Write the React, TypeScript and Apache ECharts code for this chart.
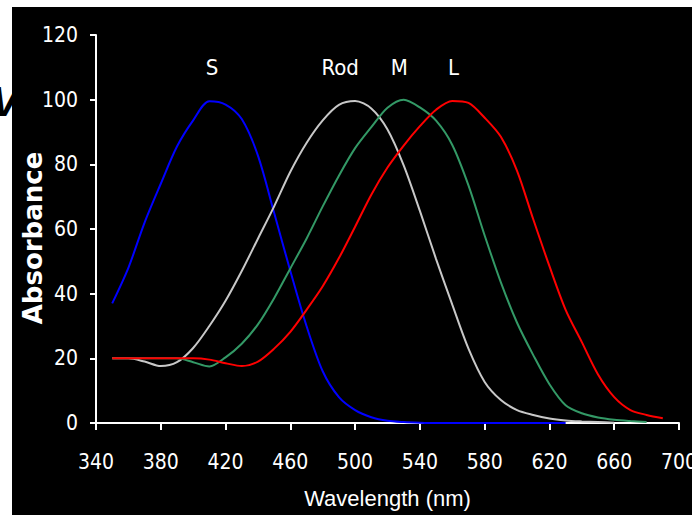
import React, { useEffect, useRef } from "react";
import * as echarts from "echarts";

const wavelengths = [350, 360, 370, 380, 390, 400, 410, 420, 430, 440, 450, 460, 470, 480, 490, 500, 510, 520, 530, 540, 550, 560, 570, 580, 590, 600, 610, 620, 630, 640, 650, 660, 670, 680, 690];

const sCone = [37, 48, 62, 74, 85.5, 93.6, 99.5, 98.5, 94, 82.7, 65, 47, 30, 16, 8, 4, 1.8, 0.7, 0.3, 0.1, 0, 0, 0, 0, 0, 0, 0, 0, 0, null, null, null, null, null, null];
const rod = [20, 20, 19, 17.6, 18.8, 23.2, 30, 37.8, 47, 57, 67, 77.7, 86.6, 93.6, 98.4, 99.6, 97.3, 90.8, 79.7, 65.6, 50.7, 36.6, 23, 12.7, 7.1, 4, 2.5, 1.4, 0.8, 0.5, 0.3, 0.1, null, null, null];
const mCone = [20, 20, 20, 20, 20, 18.8, 17.5, 20.3, 24.5, 30.5, 38.6, 47.8, 57, 67, 76.5, 85, 91.5, 97.5, 100, 97.6, 93.5, 86, 73.5, 58, 43.5, 31, 21, 12, 5.5, 3, 1.7, 1, 0.6, 0.3, null];
const lCone = [20, 20, 20, 20, 20, 20, 19.6, 18.5, 17.6, 19, 23, 28.2, 35, 42.3, 51, 60.7, 70.6, 79, 85.8, 91.8, 96.9, 99.6, 99, 94.4, 88.5, 78, 63, 48.5, 35, 25, 15, 8, 4, 2.5, 1.5];

const curveLabels = ["S", "Rod", "M", "L"];
const curveLabelX = [411.7, 490.8, 527.3, 560.7];
const curveLabelY = [109.8, 109.8, 109.8, 109.8];

const xTicks = { min: 340, max: 700, interval: 40 };
const yTicks = { min: 0, max: 120, interval: 20 };

const narrow = "'Liberation Sans Narrow', 'DejaVu Sans Condensed', 'Liberation Sans', sans-serif";

function pairs(vals: (number | null)[]) {
  return wavelengths.map((w, i) => [w, vals[i]]).filter((p) => p[1] !== null);
}

export default function App() {
  const ref = useRef<HTMLDivElement>(null);
  useEffect(() => {
    document.body.style.margin = "0";
    const chart = echarts.init(ref.current!, null, { renderer: "svg" });
    const lineSeries = (name: string, vals: (number | null)[], color: string) => ({
      name,
      type: "line",
      data: pairs(vals),
      showSymbol: false,
      symbol: "none",
      smooth: 0.3,
      lineStyle: { color, width: 2 },
      z: 5,
    });
    chart.setOption({
      animation: false,
      backgroundColor: "#ffffff",
      graphic: [
        {
          type: "text",
          left: -9,
          top: 80,
          z: 0,
          style: { text: "V", fill: "#000", font: "italic bold 42px 'Liberation Sans', sans-serif" },
        },
        {
          type: "rect",
          shape: { x: 12, y: 7, width: 700, height: 520 },
          style: { fill: "#000000" },
          z: -1,
          zlevel: 0,
        },
      ],
      grid: { left: 96, right: 13, top: 35, bottom: 92, containLabel: false, outerBoundsMode: "none" },
      xAxis: {
        type: "value",
        min: xTicks.min,
        max: xTicks.max,
        interval: xTicks.interval,
        name: "Wavelength (nm)",
        nameLocation: "middle",
        nameGap: 64,
        nameMoveOverlap: false,
        nameTextStyle: { color: "#fff", fontSize: 22, fontFamily: "'Liberation Sans', Arial, sans-serif" },
        axisLine: { show: true, onZero: false, lineStyle: { color: "#fff", width: 2 } },
        axisTick: { show: true, length: 7, lineStyle: { color: "#fff", width: 2 } },
        axisLabel: { color: "#fff", fontSize: 21, fontFamily: narrow, margin: 28, hideOverlap: false },
        splitLine: { show: false },
      },
      yAxis: {
        type: "value",
        min: yTicks.min,
        max: yTicks.max,
        interval: yTicks.interval,
        name: "Absorbance",
        nameLocation: "middle",
        nameGap: 50,
        nameRotate: 90,
        nameMoveOverlap: false,
        nameTextStyle: {
          color: "#fff",
          fontSize: 26,
          fontWeight: "bold",
          fontFamily: "'DejaVu Sans', sans-serif",
          padding: [0, 18, 0, 0],
        },
        axisLine: { show: true, onZero: false, lineStyle: { color: "#fff", width: 2 } },
        axisTick: { show: true, length: 6, lineStyle: { color: "#fff", width: 2 } },
        axisLabel: { color: "#fff", fontSize: 21, fontFamily: narrow, margin: 18 },
        splitLine: { show: false },
      },
      series: [
        lineSeries("S", sCone, "#0000ff"),
        lineSeries("Rod", rod, "#c8c8c8"),
        lineSeries("M", mCone, "#339966"),
        lineSeries("L", lCone, "#ff0000"),
        {
          type: "scatter",
          symbolSize: 0,
          itemStyle: { opacity: 1 },
          data: curveLabels.map((t, i) => ({ value: [curveLabelX[i], curveLabelY[i]], name: t })),
          label: {
            show: true,
            position: "inside",
            formatter: (p: any) => p.name,
            color: "#ffffff",
            opacity: 1,
            fontSize: 22,
            fontFamily: narrow,
          },
          silent: true,
          z: 6,
        },
      ],
    });
    return () => chart.dispose();
  }, []);
  return <div ref={ref} style={{ width: 692, height: 515 }} />;
}
